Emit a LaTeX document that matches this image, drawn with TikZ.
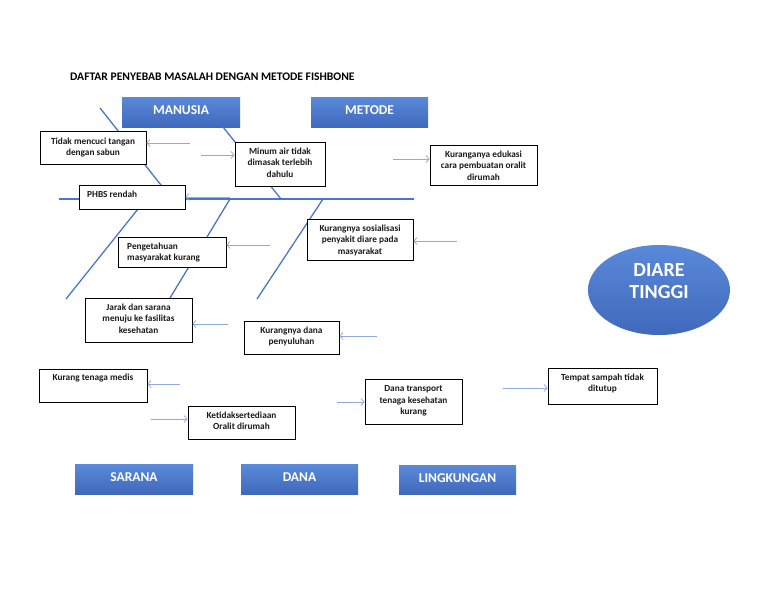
\documentclass[tikz,border=0pt]{standalone}
\usepackage{fontspec}
\setmainfont{Carlito}
\usetikzlibrary{arrows.meta,shapes.geometric}

\definecolor{bone}{HTML}{4A76C6}
\definecolor{pointer}{HTML}{8FAADC}
\definecolor{cattop}{HTML}{5A89D9}
\definecolor{catbot}{HTML}{4069BC}
\definecolor{ink}{HTML}{1A1A1A}

\tikzset{
  cause/.style={draw=black, line width=1pt, fill=white, inner sep=0pt},
  causetext/.style={inner sep=0pt, align=center, text=ink,
    font=\bfseries\fontsize{9.3}{11.5}\selectfont},
  category/.style={top color=cattop, bottom color=catbot, draw=none, inner sep=0pt},
  cattext/.style={inner sep=0pt, text=white, font=\bfseries\fontsize{13.5}{15}\selectfont},
  bonestroke/.style={draw=bone, line width=1.3pt},
  spinestroke/.style={draw=bone, line width=2.6pt},
  pointer/.style={draw=pointer, line width=0.8pt, -{Straight Barb[length=3pt,width=7pt]}},
}

% box: name, x1, y1, x2, y2
\newcommand\causebox[5]{%
  \node[cause, minimum width={#4-#2}, minimum height={#5-#3}] (#1) at ({(#2+#4)/2},{(#3+#5)/2}) {};}
\newcommand\catbox[5]{%
  \node[category, minimum width={#4-#2}, minimum height={#5-#3}] (#1) at ({(#2+#4)/2},{(#3+#5)/2}) {};}

\begin{document}
\begin{tikzpicture}[x=1pt, y=-1pt]
\useasboundingbox (0,0) rectangle (768,594);
\fill[white] (0,0) rectangle (768,594);

% title
\node[anchor=west, inner sep=0pt, font=\bfseries\fontsize{11.6}{13}\selectfont] (title) at (70,77)
  {DAFTAR PENYEBAB MASALAH DENGAN METODE FISHBONE};

% category headers
\catbox{manusia}{122}{97}{240}{127}
\catbox{metode}{311}{97}{428}{127}
\catbox{sarana}{75}{464}{193}{494}
\catbox{dana}{241}{464}{358}{494}
\catbox{lingkungan}{399}{465}{516}{494}
\node[cattext] (manusia-t) at (181,110) {MANUSIA};
\node[cattext] (metode-t) at (369.5,110) {METODE};
\node[cattext] (sarana-t) at (134,477) {SARANA};
\node[cattext] (dana-t) at (299.5,477) {DANA};
\node[cattext] (lingkungan-t) at (457.5,478) {LINGKUNGAN};

% fish skeleton
\coordinate (tail) at (59,199);
\coordinate (head) at (414,199);
\coordinate (b1a) at (100,108);  \coordinate (b1b) at (172,199);
\coordinate (b2a) at (223,127);  \coordinate (b2b) at (281,199);
\coordinate (b3a) at (230,199);  \coordinate (b3b) at (170,298);
\coordinate (b4a) at (146,199);  \coordinate (b4b) at (66,299);
\coordinate (b5a) at (323,199);  \coordinate (b5b) at (257,299);
\draw[spinestroke] (tail) -- (head);
\draw[bonestroke] (b1a) -- (b1b);
\draw[bonestroke] (b2a) -- (b2b);
\draw[bonestroke] (b3a) -- (b3b);
\draw[bonestroke] (b4a) -- (b4b);
\draw[bonestroke] (b5a) -- (b5b);

% cause boxes
\causebox{tidak}{40}{131}{146}{164}
\causebox{minum}{235}{142}{325}{186}
\causebox{edukasi}{430}{145}{537}{185}
\causebox{phbs}{79}{185}{185}{209}
\causebox{pengetahuan}{118}{237}{226}{267}
\causebox{sosialisasi}{307}{219}{413}{260}
\causebox{jarak}{85}{298}{192}{342}
\causebox{penyuluhan}{244}{321}{339}{354}
\causebox{medis}{39}{369}{147}{402}
\causebox{oralit}{188}{406}{295}{439}
\causebox{transport}{365}{379}{462}{424}
\causebox{sampah}{548}{368}{657}{404}

\node[causetext, anchor=north] (tidak-t) at (93,137.5) {Tidak mencuci tangan\\dengan sabun};
\node[causetext, anchor=north] (minum-t) at (280,147.5) {Minum air tidak\\dimasak terlebih\\dahulu};
\node[causetext, anchor=north] (edukasi-t) at (483.5,150.5) {Kuranganya edukasi\\cara pembuatan oralit\\dirumah};
\node[causetext, anchor=north west] (phbs-t) at (87,190.5) {PHBS rendah};
\node[causetext, anchor=north west, align=left] (pengetahuan-t) at (127,242.5) {Pengetahuan\\masyarakat kurang};
\node[causetext, anchor=north] (sosialisasi-t) at (360,224.5) {Kurangnya sosialisasi\\penyakit diare pada\\masyarakat};
\node[causetext, anchor=north] (jarak-t) at (138.5,303.5) {Jarak dan sarana\\menuju ke fasilitas\\kesehatan};
\node[causetext, anchor=north] (penyuluhan-t) at (291.5,326.5) {Kurangnya dana\\penyuluhan};
\node[causetext, anchor=north] (medis-t) at (93,373.5) {Kurang tenaga medis};
\node[causetext, anchor=north] (oralit-t) at (241.5,411.5) {Ketidaksertediaan\\Oralit dirumah};
\node[causetext, anchor=north] (transport-t) at (413.5,385.5) {Dana transport\\tenaga kesehatan\\kurang};
\node[causetext, anchor=north] (sampah-t) at (602.5,373.5) {Tempat sampah tidak\\ditutup};

% effect
\node[ellipse, draw=none, top color=cattop, bottom color=catbot, minimum width=142, minimum height=90, inner sep=0pt] (diare) at (659,290) {};
\node[inner sep=0pt, align=center, text=white, font=\bfseries\fontsize{20}{22}\selectfont] (diare-t) at (659,281) {DIARE\\TINGGI};

% pointers towards the causes
\coordinate (p1) at (190,143);  \draw[pointer] (p1) -- (p1 -| tidak.east);
\coordinate (p2) at (201,155);  \draw[pointer] (p2) -- (p2 -| minum.west);
\coordinate (p3) at (393,159);  \draw[pointer] (p3) -- (p3 -| edukasi.west);
\coordinate (p4) at (230,197);  \draw[pointer] (p4) -- (p4 -| phbs.east);
\coordinate (p5) at (270,245);  \draw[pointer] (p5) -- (p5 -| pengetahuan.east);
\coordinate (p6) at (457,241);  \draw[pointer] (p6) -- (p6 -| sosialisasi.east);
\coordinate (p7) at (228,324);  \draw[pointer] (p7) -- (p7 -| jarak.east);
\coordinate (p8) at (377,336);  \draw[pointer] (p8) -- (p8 -| penyuluhan.east);
\coordinate (p9) at (180,384);  \draw[pointer] (p9) -- (p9 -| medis.east);
\coordinate (p10) at (151,419); \draw[pointer] (p10) -- (p10 -| oralit.west);
\coordinate (p11) at (337,402); \draw[pointer] (p11) -- (p11 -| transport.west);
\coordinate (p12) at (503,388); \draw[pointer] (p12) -- (p12 -| sampah.west);
\end{tikzpicture}
\end{document}
